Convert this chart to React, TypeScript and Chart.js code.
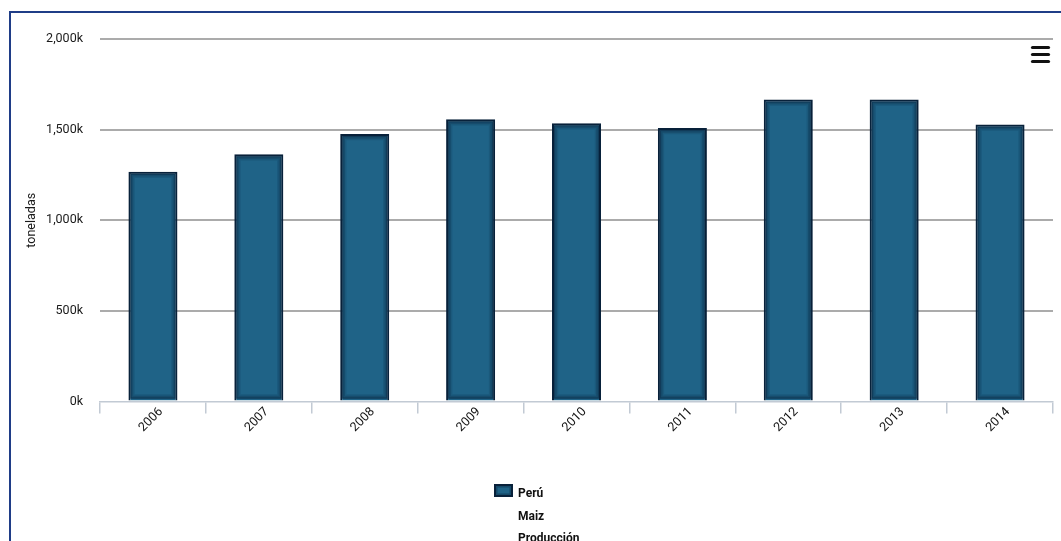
import React, { useEffect, useRef } from "react";
import { Chart, registerables } from "chart.js";

Chart.register(...registerables);

const years = ["2006", "2007", "2008", "2009", "2010", "2011", "2012", "2013", "2014"];
const produccion = [1268000, 1364000, 1476000, 1557000, 1535000, 1509000, 1666000, 1666000, 1528000];
const yTickValues = [0, 500000, 1000000, 1500000, 2000000];
const legendLines = ["Perú", "Maiz", "Producción"];
const axisTitle = "toneladas";

const BAR_FILL = "#1f6387";
const BAR_EDGE = "#08213a";
const FONT = "Roboto, 'Liberation Sans', Arial, sans-serif";

const barShade = {
  id: "barShade",
  afterDatasetsDraw(chart: any) {
    const ctx = chart.ctx;
    const meta = chart.getDatasetMeta(0);
    ctx.save();
    meta.data.forEach((bar: any) => {
      const p = bar.getProps(["x", "y", "base", "width"], true);
      const l = p.x - p.width / 2;
      const t = Math.min(p.y, p.base);
      const h = Math.abs(p.base - p.y);
      const insets = [
        [2.5, 1.5, "rgba(8,33,58,0.6)"],
        [4, 1.5, "rgba(8,33,58,0.35)"],
        [5.5, 1.5, "rgba(8,33,58,0.15)"],
      ] as const;
      insets.forEach(([d, w, c]) => {
        ctx.strokeStyle = c;
        ctx.lineWidth = w;
        ctx.strokeRect(l + d, t + d, p.width - 2 * d, h - 2 * d);
      });
    });
    ctx.restore();
  },
};

const extras = {
  id: "extras",
  afterDraw(chart: any) {
    const ctx = chart.ctx;
    ctx.save();
    // legend swatch
    const sx = 483, sy = 471, sw = 19, sh = 13;
    ctx.fillStyle = BAR_FILL;
    ctx.fillRect(sx, sy, sw, sh);
    ctx.strokeStyle = BAR_EDGE;
    ctx.lineWidth = 2;
    ctx.strokeRect(sx + 1, sy + 1, sw - 2, sh - 2);
    ctx.strokeStyle = "rgba(8,33,58,0.4)";
    ctx.lineWidth = 1.5;
    ctx.strokeRect(sx + 2.8, sy + 2.8, sw - 5.6, sh - 5.6);
    // legend text
    ctx.fillStyle = "#111";
    ctx.font = `bold 12px ${FONT}`;
    ctx.textAlign = "left";
    ctx.textBaseline = "middle";
    legendLines.forEach((line, i) => {
      ctx.fillText(line, 507, 481 + i * 22.5);
    });
    // menu icon
    ctx.strokeStyle = "#111";
    ctx.lineWidth = 3.2;
    ctx.lineCap = "round";
    [34.5, 41.5, 48.5].forEach((y) => {
      ctx.beginPath();
      ctx.moveTo(1021.5, y);
      ctx.lineTo(1037.5, y);
      ctx.stroke();
    });
    ctx.restore();
  },
};

export default function App() {
  const ref = useRef<HTMLCanvasElement>(null);
  useEffect(() => {
    if (!ref.current) return;
    const chart = new Chart(ref.current, {
      type: "bar",
      data: {
        labels: years,
        datasets: [
          {
            label: legendLines.join(" "),
            data: produccion,
            backgroundColor: BAR_FILL,
            borderColor: BAR_EDGE,
            borderWidth: 2,
            barPercentage: 0.463,
            categoryPercentage: 1,
          },
        ],
      },
      options: {
        responsive: false,
        animation: false,
        layout: { padding: { top: 26, right: 8, bottom: 0, left: 0 } },
        plugins: { legend: { display: false }, tooltip: { enabled: false } },
        scales: {
          x: {
            offset: true,
            afterFit: (s: any) => {
              s.height = 139.5;
            },
            border: { display: true, color: "#c2cad4", width: 1.5 },
            grid: {
              offset: true,
              drawOnChartArea: false,
              drawTicks: true,
              tickLength: 12,
              color: "#c2cad4",
              lineWidth: 1.5,
            },
            ticks: {
              autoSkip: false,
              minRotation: 45,
              maxRotation: 45,
              labelOffset: 8,
              padding: -9,
              color: "#111",
              font: { family: FONT, size: 12.5 },
            },
          },
          y: {
            min: 0,
            max: 2000000,
            afterFit: (s: any) => {
              s.width = 89;
            },
            afterBuildTicks: (s: any) => {
              s.ticks = yTickValues.map((v) => ({ value: v }));
            },
            border: { display: false },
            grid: {
              drawTicks: false,
              lineWidth: 2,
              color: (c: any) => (c.tick && c.tick.value === 0 ? "rgba(0,0,0,0)" : "#ababab"),
            },
            ticks: {
              padding: 17,
              color: "#1a1a1a",
              font: { family: FONT, size: 12.5 },
              callback: (v: any) => (Number(v) / 1000).toLocaleString("en-US") + "k",
            },
            title: {
              display: true,
              text: axisTitle,
              color: "#1a1a1a",
              font: { family: FONT, size: 12.5 },
              padding: { top: 13, bottom: 0 },
            },
          },
        },
      },
      plugins: [barShade, extras],
    });
    return () => chart.destroy();
  }, []);

  return (
    <div
      style={{
        position: "absolute",
        left: 9,
        top: 11,
        borderLeft: "2px solid #1f3d87",
        borderTop: "2px solid #1f3d87",
        width: 1050,
        height: 528,
      }}
    >
      <canvas ref={ref} width={1050} height={528} style={{ display: "block", width: 1050, height: 528 }} />
    </div>
  );
}
